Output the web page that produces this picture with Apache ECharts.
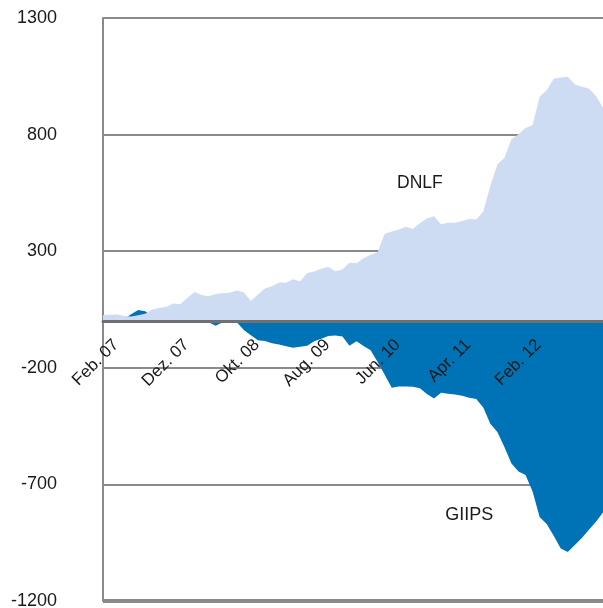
<!DOCTYPE html>
<html>
<head>
<meta charset="utf-8">
<script src="https://cdn.jsdelivr.net/npm/echarts@6/dist/echarts.min.js"></script>
<style>
  html, body { margin: 0; padding: 0; background: #ffffff; }
  #chart { width: 603px; height: 608px; }
</style>
</head>
<body>
<div id="chart"></div>
<script>
const categories = [
  "Jan. 07","Feb. 07","März 07","Apr. 07","Mai 07","Jun. 07","Jul. 07","Aug. 07","Sep. 07","Okt. 07","Nov. 07","Dez. 07",
  "Jan. 08","Feb. 08","März 08","Apr. 08","Mai 08","Jun. 08","Jul. 08","Aug. 08","Sep. 08","Okt. 08","Nov. 08","Dez. 08",
  "Jan. 09","Feb. 09","März 09","Apr. 09","Mai 09","Jun. 09","Jul. 09","Aug. 09","Sep. 09","Okt. 09","Nov. 09","Dez. 09",
  "Jan. 10","Feb. 10","März 10","Apr. 10","Mai 10","Jun. 10","Jul. 10","Aug. 10","Sep. 10","Okt. 10","Nov. 10","Dez. 10",
  "Jan. 11","Feb. 11","März 11","Apr. 11","Mai 11","Jun. 11","Jul. 11","Aug. 11","Sep. 11","Okt. 11","Nov. 11","Dez. 11",
  "Jan. 12","Feb. 12","März 12","Apr. 12","Mai 12","Jun. 12","Jul. 12","Aug. 12","Sep. 12","Okt. 12","Nov. 12","Dez. 12"
];

const shownLabels = ["Feb. 07","Dez. 07","Okt. 08","Aug. 09","Jun. 10","Apr. 11","Feb. 12"];

const dnlf = [
  26, 28, 29, 22, 20, 25, 32, 50, 56, 62, 76, 72,
  100, 125, 112, 107, 117, 120, 122, 131, 124, 86, 114, 140,
  150, 166, 165, 180, 170, 206, 213, 225, 232, 214, 222, 250,
  248, 270, 285, 296, 375, 385, 393, 405, 395, 420, 440, 450,
  416, 422, 422, 430, 438, 436, 470, 580, 672, 700, 780, 802,
  828, 840, 962, 990, 1040, 1045, 1048, 1015, 1005, 998, 965, 915
];

const giips = [
  10, 12, 12, 10, 30, 48, 42, 20, 10, 5, 0, 0,
  -2, -3, -4, -5, -20, -5, -8, -5, -38, -60, -82, -85,
  -95, -100, -108, -114, -110, -105, -86, -75, -64, -61, -66, -105,
  -86, -107, -125, -175, -230, -286, -280, -280, -281, -288, -312, -332,
  -307, -311, -315, -320, -328, -334, -370, -440, -475, -540, -610, -645,
  -660, -730, -840, -870, -920, -975, -990, -960, -930, -895, -860, -821
];

const yTicks = { min: -1200, max: 1300, step: 500 };
const seriesNames = ["GIIPS", "DNLF"];

const chart = echarts.init(document.getElementById('chart'), null, { renderer: 'canvas' });
const FONT = '"Liberation Sans", Arial, Helvetica, sans-serif';

chart.setOption({
  animation: false,
  backgroundColor: '#ffffff',
  grid: { left: 103, right: 0, top: 18, bottom: 7, containLabel: false, outerBoundsMode: 'none' },
  xAxis: {
    type: 'category',
    data: categories,
    boundaryGap: false,
    position: 'bottom',
    offset: 0,
    z: 5,
    axisLine: { show: true, onZero: false, lineStyle: { color: '#707070', width: 3 } },
    axisTick: { show: false },
    splitLine: { show: false },
    axisLabel: {
      show: true,
      rotate: 45,
      margin: 15,
      verticalAlign: 'top',
      interval: function (i, v) { return shownLabels.indexOf(v) >= 0; },
      fontFamily: FONT,
      fontSize: 17,
      color: '#1a1a1a'
    }
  },
  yAxis: {
    type: 'value',
    min: yTicks.min,
    max: yTicks.max,
    interval: yTicks.step,
    axisLine: { show: true, lineStyle: { color: '#8a8a8a', width: 2 } },
    axisTick: { show: false },
    splitLine: { show: true, lineStyle: { color: '#8a8a8a', width: 2 } },
    axisLabel: {
      margin: 46,
      fontFamily: FONT,
      fontSize: 18,
      color: '#1a1a1a',
      formatter: function (v) { return String(v); }
    }
  },
  series: [
    {
      name: seriesNames[0],
      type: 'line',
      data: giips,
      symbol: 'none',
      lineStyle: { width: 0 },
      areaStyle: { color: '#0073b7', opacity: 1, origin: 0 },
      z: 2,
      markPoint: {
        symbol: 'circle',
        symbolSize: 0,
        data: [{ coord: ["Mai 11", -831], value: 'GIIPS' }],
        label: { show: true, formatter: 'GIIPS', fontFamily: FONT, fontSize: 18, color: '#1a1a1a', position: 'inside' }
      },
      markLine: {
        silent: true,
        symbol: 'none',
        label: { show: false },
        lineStyle: { color: '#8a8a8a', width: 4, type: 'solid' },
        data: [{ yAxis: yTicks.min }]
      }
    },
    {
      name: seriesNames[1],
      type: 'line',
      data: dnlf,
      symbol: 'none',
      lineStyle: { width: 0 },
      areaStyle: { color: '#cddbf3', opacity: 1, origin: 0 },
      z: 3,
      markPoint: {
        symbol: 'circle',
        symbolSize: 0,
        data: [{ coord: ["Okt. 10", 591], value: 'DNLF' }],
        label: { show: true, formatter: 'DNLF', fontFamily: FONT, fontSize: 17.5, color: '#1a1a1a', position: 'inside' }
      }
    }
  ]
});

// Move the category axis (line + labels) up to the zero value of the y scale.
const zeroY = chart.convertToPixel({ yAxisIndex: 0 }, 0);
const bottomY = chart.convertToPixel({ yAxisIndex: 0 }, yTicks.min);
chart.setOption({ xAxis: { offset: zeroY - bottomY } });
</script>
</body>
</html>
